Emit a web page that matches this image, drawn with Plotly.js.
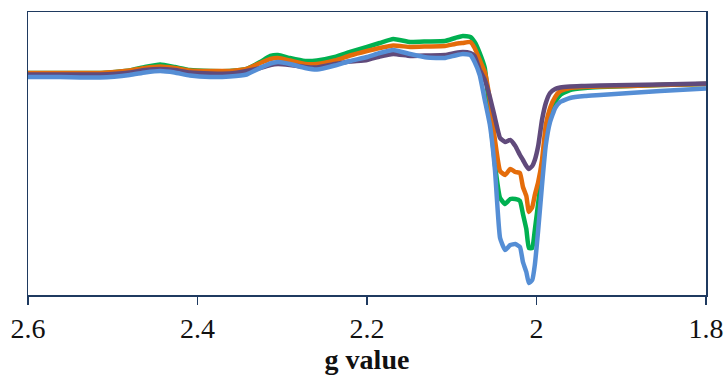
<!DOCTYPE html>
<html>
<head>
<meta charset="utf-8">
<script src="https://cdn.plot.ly/plotly-3.0.1.min.js"></script>
<style>
html,body{margin:0;padding:0;background:#fff;}
#chart{width:724px;height:376px;}
</style>
</head>
<body>
<div id="chart"></div>
<script>
// g values (x axis)
const gValues = [2.600,2.562,2.515,2.480,2.462,2.444,2.427,2.409,2.385,2.362,
  2.342,2.326,2.314,2.305,2.291,2.273,2.259,2.238,2.220,2.200,
  2.185,2.169,2.149,2.129,2.108,2.096,2.087,2.078,2.073,2.067,
  2.061,2.055,2.049,2.043,2.037,2.031,2.025,2.0195,2.016,2.012,
  2.009,2.005,2.002,1.998,1.9935,1.989,1.984,1.978,1.972,1.9605,
  1.943,1.925,1.890,1.854,1.800];

// EPR signal intensities (arbitrary units)
const seriesGreen = [7,7,7,9.5,13,15.5,13,10,9,9,
  11,18,24,25,22,19,19.5,23,28,33,
  37,41,38,38.5,39,42,44,43,38,27,
  12,-35,-85,-118,-124,-119,-119,-121,-134,-149,
  -168,-168,-150,-123,-90,-58,-35,-22,-15,-10,
  -8,-7,-6,-5,-4];
const seriesOrange = [7,7,7,9.5,12,13.5,12,9.5,9,9,
  11,17,21,22,19.5,16,16,19.5,24.5,29,
  32,34.5,33,33.5,34,36,37,38,32,20,
  8,-20,-60,-91,-95,-89,-92,-93,-107,-116,
  -132,-127,-115,-102,-80,-45,-28,-17,-11,-8,
  -7,-6.5,-6,-5,-4];
const seriesPurple = [5.5,5.5,5.5,7.5,10,11,10,7.5,6.5,6.5,
  9,12,15,16,15,13,12.5,16,18.5,20,
  23.5,26,24,24.5,25,27,28,27,24,10,
  0,-17,-38,-58,-62,-60,-66,-75,-80,-86,
  -89,-86,-80,-66,-40,-23,-13,-9,-7.5,-6.5,
  -6,-5.5,-5,-4.5,-3.5];
const seriesBlue = [3,3,2.5,5,7.5,9,7.5,4.5,3,3.5,
  5.5,12,16.5,18,16,12,10.5,14.5,19,23,
  27,30,26,22.5,22,24.5,26,25,18,5,
  -20,-45,-90,-158,-170,-165,-164,-167,-182,-192,
  -203,-200,-185,-150,-105,-65,-42,-28,-22,-18,
  -16,-15,-13,-11,-8.5];

const tickVals = [2.6, 2.4, 2.2, 2, 1.8];
const tickLabels = ['2.6', '2.4', '2.2', '2', '1.8'];

const series = [
  {y: seriesGreen, color: '#00B050'},
  {y: seriesOrange, color: '#E46C0A'},
  {y: seriesPurple, color: '#604A7B'},
  {y: seriesBlue, color: '#558ED5'}
];

const traces = series.map(s => ({
  x: gValues, y: s.y, type: 'scatter', mode: 'lines',
  line: {color: s.color, width: 4.5, shape: 'spline', smoothing: 0.4},
  hoverinfo: 'skip', showlegend: false
}));

const serifFont = 'Liberation Serif';
const textColor = '#111111';
const axisColor = '#1F3A60';
const layout = {
  width: 724, height: 376,
  margin: {l: 28, r: 18, t: 12, b: 81},
  paper_bgcolor: '#fff', plot_bgcolor: '#fff',
  showlegend: false,
  font: {family: serifFont, color: textColor},
  xaxis: {
    range: [2.6, 1.8],
    tickvals: tickVals, ticktext: tickLabels,
    ticks: 'outside', ticklen: 8, tickwidth: 1.5, tickcolor: axisColor,
    showline: true, linecolor: axisColor, linewidth: 1.5, mirror: true,
    showgrid: false, zeroline: false,
    tickfont: {family: serifFont, size: 28, color: textColor},
    title: {text: '<b>g value</b>', font: {family: serifFont, size: 28, color: textColor}, standoff: 3}
  },
  yaxis: {
    range: [-215, 68],
    showticklabels: false, ticks: '',
    showline: true, linecolor: axisColor, linewidth: 1.5, mirror: true,
    showgrid: false, zeroline: false
  }
};

Plotly.newPlot('chart', traces, layout, {displayModeBar: false, staticPlot: true});
</script>
</body>
</html>
